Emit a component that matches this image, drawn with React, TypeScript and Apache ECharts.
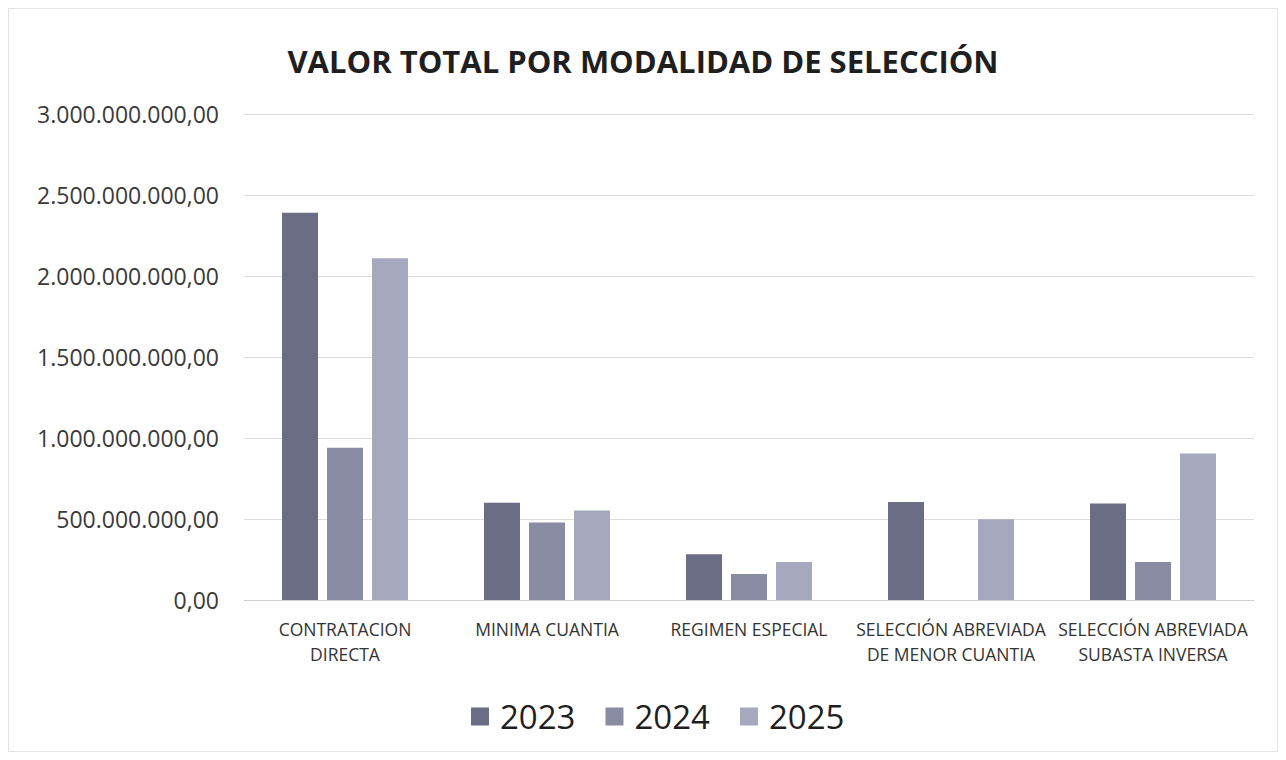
import React, { useEffect, useRef } from "react";
import * as echarts from "echarts";

const categories = [
  "CONTRATACION\nDIRECTA",
  "MINIMA CUANTIA",
  "REGIMEN ESPECIAL",
  "SELECCIÓN ABREVIADA\nDE MENOR CUANTIA",
  "SELECCIÓN ABREVIADA\nSUBASTA INVERSA",
];
const years = ["2023", "2024", "2025"];
const values2023 = [2390000000, 600000000, 283000000, 605000000, 596000000];
const values2024 = [940000000, 478000000, 160000000, 0, 234000000];
const values2025 = [2110000000, 553000000, 234000000, 498000000, 905000000];
const colors = ["#6b6d84", "#8a8ca3", "#a6a8bd"];

function fmt(v: number): string {
  const s = Math.round(v).toString().replace(/\B(?=(\d{3})+(?!\d))/g, ".");
  return s + ",00";
}

export default function App() {
  const ref = useRef<HTMLDivElement>(null);
  useEffect(() => {
    if (!ref.current) return;
    const chart = echarts.init(ref.current, null, { renderer: "svg" });
    const font = "'Open Sans', 'Noto Sans', sans-serif";
    const seriesData = [values2023, values2024, values2025];
    chart.setOption({
      animation: false,
      backgroundColor: "#ffffff",
      title: {
        text: "VALOR TOTAL POR MODALIDAD DE SELECCIÓN",
        left: "center",
        top: 31,
        textStyle: { fontFamily: font, fontSize: 31, fontWeight: "bold", color: "#1f1f1f" },
      },
      legend: {
        top: 686,
        left: 457,
        itemWidth: 18,
        itemHeight: 18,
        itemGap: 30,
        icon: "rect",
        textStyle: { fontFamily: font, fontSize: 33, color: "#1f1f1f", padding: [0, 0, 0, 6] },
        data: years,
      },
      grid: { left: 235, right: 23, top: 105, bottom: 151 },
      xAxis: {
        type: "category",
        data: categories,
        axisTick: { show: false },
        axisLine: { lineStyle: { color: "#d0d0d0" } },
        axisLabel: {
          interval: 0,
          fontFamily: font,
          fontSize: 17.5,
          color: "#333333",
          lineHeight: 25,
          margin: 16,
        },
      },
      yAxis: {
        type: "value",
        min: 0,
        max: 3000000000,
        interval: 500000000,
        axisLine: { show: false },
        axisTick: { show: false },
        splitLine: { lineStyle: { color: "#dcdcdc" } },
        axisLabel: {
          formatter: (v: number) => fmt(v),
          fontFamily: font,
          fontSize: 23,
          color: "#3a3a3a",
          margin: 25,
        },
      },
      series: years.map((y, i) => ({
        name: y,
        type: "bar",
        data: seriesData[i],
        barWidth: 36,
        barGap: "25%",
        itemStyle: { color: colors[i] },
      })),
    });
    return () => chart.dispose();
  }, []);
  return (
    <div
      ref={ref}
      style={{ width: 1270, height: 744, boxSizing: "border-box", border: "1px solid #e4e4e4" }}
    />
  );
}
